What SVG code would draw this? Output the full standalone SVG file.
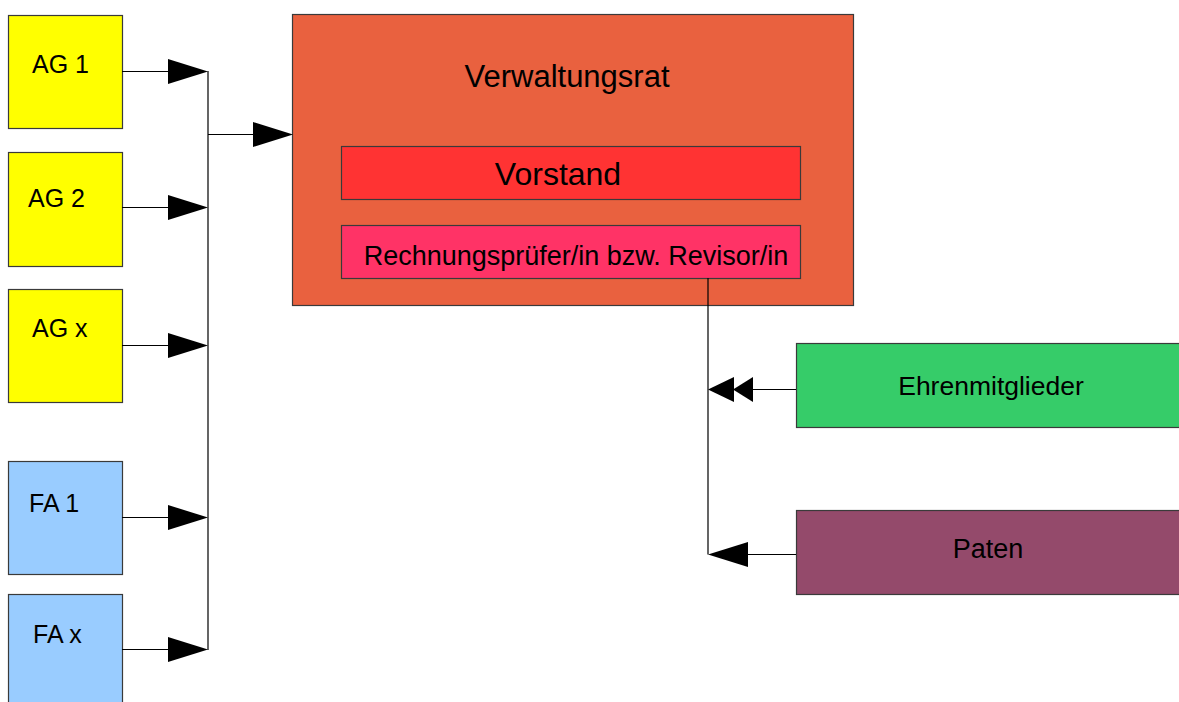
<svg xmlns="http://www.w3.org/2000/svg" width="1179" height="702" viewBox="0 0 1179 702">
<style>
.box{stroke:#3a3a3a;stroke-width:1.2}
.t{font-family:"Liberation Sans",Arial,sans-serif;fill:#000}
.s{font-size:25px}
.ln{stroke:#000;stroke-width:1.2;fill:none}
.ah{fill:#000}
</style>
<rect width="1179" height="702" fill="#fff"/>
<g id="ag1"><rect class="box" x="8.5" y="15.5" width="114" height="113" fill="#ffff00"/><text class="t s" x="32" y="73">AG 1</text></g>
<g id="ag2"><rect class="box" x="8.5" y="152.5" width="114" height="114" fill="#ffff00"/><text class="t s" x="28" y="207">AG 2</text></g>
<g id="agx"><rect class="box" x="8.5" y="289.5" width="114" height="113" fill="#ffff00"/><text class="t s" x="32" y="337">AG x</text></g>
<g id="fa1"><rect class="box" x="8.5" y="461.5" width="114" height="113" fill="#99ccff"/><text class="t s" x="29" y="512">FA 1</text></g>
<g id="fax"><rect class="box" x="8.5" y="594.5" width="114" height="120" fill="#99ccff"/><text class="t s" x="33" y="643">FA x</text></g>
<g id="verwaltungsrat"><rect class="box" x="292.5" y="14.5" width="561" height="291" fill="#e9613f"/><text class="t" x="567" y="87" font-size="31" text-anchor="middle">Verwaltungsrat</text></g>
<g id="vorstand"><rect class="box" x="341.5" y="146.5" width="459" height="53" fill="#ff3333"/><text class="t" x="558" y="185" font-size="32" text-anchor="middle">Vorstand</text></g>
<g id="revisor"><rect class="box" x="341.5" y="225.5" width="459" height="53" fill="#ff3366"/><text class="t" x="576" y="265" font-size="27" text-anchor="middle">Rechnungsprüfer/in bzw. Revisor/in</text></g>
<g id="ehrenmitglieder"><rect class="box" x="796.5" y="343.5" width="390" height="84" fill="#36cc69"/><text class="t" x="991" y="395" font-size="26.5" text-anchor="middle">Ehrenmitglieder</text></g>
<g id="paten"><rect class="box" x="796.5" y="510.5" width="390" height="84" fill="#944a6b"/><text class="t" x="988" y="558" font-size="27" text-anchor="middle">Paten</text></g>
<g id="connectors">
<path class="ln" d="M122 71.5H170M122 207.5H170M122 345.5H170M122 517.5H170M122 649.5H170"/>
<path class="ln" d="M208 71V650M208 134.5H256"/>
<polygon class="ah" points="168,59 208,71.5 168,84"/>
<polygon class="ah" points="168,195 208,207.5 168,220"/>
<polygon class="ah" points="168,333 208,345.5 168,358"/>
<polygon class="ah" points="168,505 208,517.5 168,530"/>
<polygon class="ah" points="168,637 208,649.5 168,662"/>
<polygon class="ah" points="253,122 293,134.5 253,147"/>
<path class="ln" d="M708 278V554.5M796 389.5H750M796 554.5H745"/>
<polygon class="ah" points="708,389.5 734,377 734,402"/>
<polygon class="ah" points="733,389.5 753,377 753,402"/>
<polygon class="ah" points="708,554.5 748,542 748,567"/>
</g>
</svg>
